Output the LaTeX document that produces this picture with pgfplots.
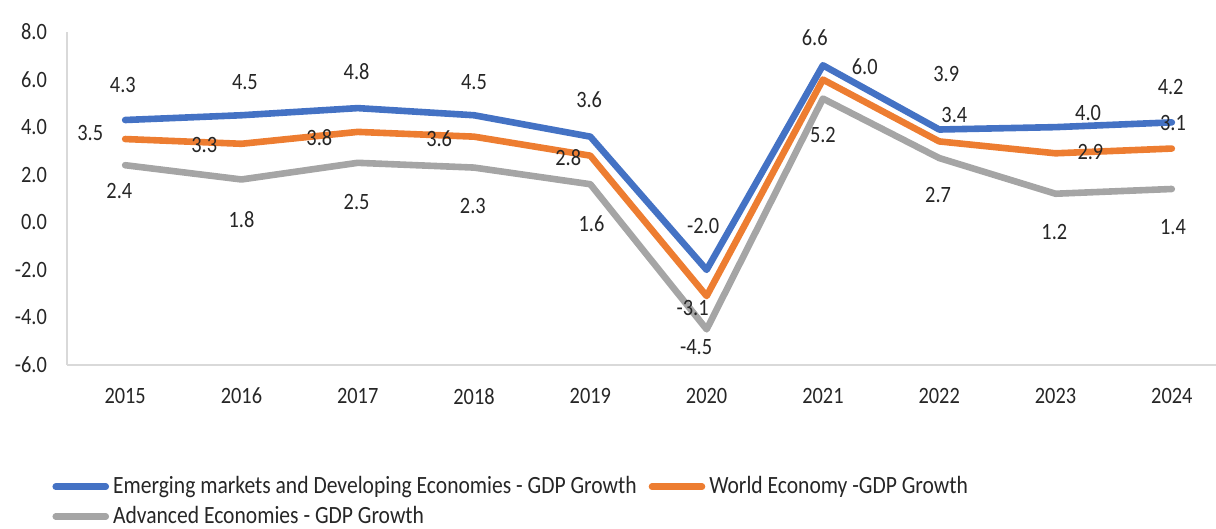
\documentclass[border=0pt]{standalone}
\usepackage{pgfplots}
\pgfplotsset{compat=1.18}
\usepackage{fontspec}
\setmainfont{Carlito}[FakeStretch=0.87]
\definecolor{cblue}{HTML}{4472C4}
\definecolor{corange}{HTML}{ED7D31}
\definecolor{cgray}{HTML}{A5A5A5}
\definecolor{axgray}{HTML}{D9D9D9}
\definecolor{txt}{HTML}{262626}
\begin{document}
\begin{tikzpicture}
\begin{axis}[
  scale only axis,
  width=574.5pt, height=166.5pt,
  xmin=-0.5, xmax=9.38,
  ymin=-6, ymax=8,
  clip=false,
  axis lines*=left,
  axis line style={draw=axgray, line width=0.8pt},
  major tick length=0pt,
  xtick={0,...,9},
  xticklabels={2015,2016,2017,2018,2019,2020,2021,2022,2023,2024},
  ytick={-6,-4,...,8},
  yticklabel={\pgfmathprintnumber[fixed,fixed zerofill,precision=1]{\tick}},
  /pgf/number format/assume math mode=true,
  tick label style={font=\fontsize{11.7}{13}\selectfont, text=txt},
  yticklabel style={xshift=-6.5pt},
  xticklabel style={yshift=-8pt},
  legend columns=2,
  legend cell align=left,
  legend style={draw=none, fill=none, inner sep=0pt,
    at={(-0.013,-0.322)}, anchor=north west,
    font=\fontsize{12.4}{14}\selectfont, text=txt,
    /tikz/every even column/.append style={column sep=4pt},
    row sep=0.8pt},
  legend image code/.code={\draw[#1, line cap=round] (0pt,0pt) -- (25pt,0pt);},
  every axis plot/.append style={line width=3.3pt, line join=round, line cap=round},
]
\addplot[cblue, mark=none] coordinates {(0,4.3) (1,4.5) (2,4.8) (3,4.5) (4,3.6) (5,-2.0) (6,6.6) (7,3.9) (8,4.0) (9,4.2)};
\addlegendentry{Emerging markets and Developing Economies - GDP Growth}
\addplot[corange, mark=none] coordinates {(0,3.5) (1,3.3) (2,3.8) (3,3.6) (4,2.8) (5,-3.1) (6,6.0) (7,3.4) (8,2.9) (9,3.1)};
\addlegendentry{World Economy -GDP Growth}
\addplot[cgray, mark=none] coordinates {(0,2.4) (1,1.8) (2,2.5) (3,2.3) (4,1.6) (5,-4.5) (6,5.2) (7,2.7) (8,1.2) (9,1.4)};
\addlegendentry{Advanced Economies - GDP Growth}
% data labels (positions of the label texts)
\addplot[draw=none, mark=none, forget plot, nodes near coords, point meta=explicit symbolic,
  nodes near coords align=center,
  every node near coord/.append style={font=\fontsize{11.7}{13}\selectfont, text=txt, anchor=center}]
  table[meta=lab] {
x y lab
-0.02 5.77 4.3
1.03 5.89 4.5
1.99 6.32 4.8
3.00 5.89 4.5
3.99 5.14 3.6
4.97 -0.16 -2.0
5.93 7.74 6.6
7.06 6.23 3.9
8.28 4.59 4.0
8.99 5.68 4.2
-0.30 3.75 3.5
0.68 3.24 3.3
1.67 3.58 3.8
2.70 3.50 3.6
3.81 2.74 2.8
4.88 -3.61 -3.1
6.36 6.53 6.0
7.13 4.52 3.4
8.30 2.95 2.9
9.01 4.17 3.1
-0.05 1.32 2.4
1.00 0.10 1.8
1.99 0.85 2.5
2.99 0.68 2.3
4.01 -0.07 1.6
4.91 -5.24 -4.5
6.00 3.67 5.2
6.99 1.15 2.7
7.99 -0.41 1.2
9.01 -0.20 1.4
};
\coordinate (bl) at (rel axis cs:0,0);
\end{axis}
\pgfresetboundingbox
\path[use as bounding box] ([shift={(-33.5pt,-82pt)}]bl) rectangle ([shift={(574.5pt,182.5pt)}]bl);
\end{tikzpicture}
\end{document}
